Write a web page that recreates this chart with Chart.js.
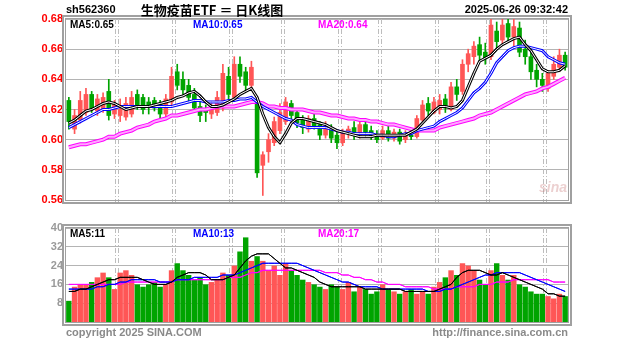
<!DOCTYPE html>
<html>
<head>
<meta charset="utf-8">
<script src="https://cdn.jsdelivr.net/npm/chart.js@4.4.1/dist/chart.umd.min.js"></script>
<style>
  html, body { margin: 0; padding: 0; background: #fff; }
  #wrap { position: relative; width: 627px; height: 342px; overflow: hidden; }
  canvas { position: absolute; left: 0; }
  #kline { top: 0; }
  #vol { top: 214px; }
</style>
</head>
<body>
<div id="wrap">
  <canvas id="kline" width="627" height="214"></canvas>
  <canvas id="vol" width="627" height="128"></canvas>
</div>
<script>
const dates = [
  '2025-02-18','2025-02-19','2025-02-20','2025-02-21','2025-02-24','2025-02-25','2025-02-26','2025-02-27','2025-02-28',
  '2025-03-03','2025-03-04','2025-03-05','2025-03-06','2025-03-07',
  '2025-03-10','2025-03-11','2025-03-12','2025-03-13','2025-03-14',
  '2025-03-17','2025-03-18','2025-03-19','2025-03-20','2025-03-21',
  '2025-03-24','2025-03-25','2025-03-26','2025-03-27','2025-03-28',
  '2025-03-31','2025-04-01','2025-04-02','2025-04-03',
  '2025-04-07','2025-04-08','2025-04-09','2025-04-10','2025-04-11',
  '2025-04-14','2025-04-15','2025-04-16','2025-04-17','2025-04-18',
  '2025-04-21','2025-04-22','2025-04-23','2025-04-24','2025-04-25',
  '2025-04-28','2025-04-29','2025-04-30',
  '2025-05-06','2025-05-07','2025-05-08','2025-05-09',
  '2025-05-12','2025-05-13','2025-05-14','2025-05-15','2025-05-16',
  '2025-05-19','2025-05-20','2025-05-21','2025-05-22','2025-05-23',
  '2025-05-26','2025-05-27','2025-05-28','2025-05-29','2025-05-30',
  '2025-06-03','2025-06-04','2025-06-05','2025-06-06',
  '2025-06-09','2025-06-10','2025-06-11','2025-06-12','2025-06-13',
  '2025-06-16','2025-06-17','2025-06-18','2025-06-19','2025-06-20',
  '2025-06-23','2025-06-24','2025-06-25','2025-06-26'
];

const open = [
  .626,.607,.613,.618,.630,.619,.620,.632,.617,
  .616,.615,.617,.630,.628,
  .625,.626,.624,.617,.625,
  .645,.640,.636,.630,.622,
  .620,.617,.618,.621,.642,
  .628,.650,.645,.636,
  .626,.583,.592,.598,.606,
  .612,.624,.618,.613,.607,
  .614,.610,.603,.608,.603,
  .598,.604,.608,
  .603,.610,.606,.603,
  .601,.606,.601,.605,.600,
  .603,.602,.613,.624,.618,
  .620,.627,.620,.635,.632,
  .650,.655,.663,.658,
  .655,.672,.666,.677,.668,
  .674,.660,.655,.646,.640,
  .634,.642,.648,.656
];
const high = [
  .628,.620,.632,.634,.632,.630,.631,.640,.626,
  .627,.628,.632,.633,.630,
  .628,.628,.626,.630,.648,
  .650,.645,.640,.634,.625,
  .623,.624,.632,.650,.648,
  .655,.655,.648,.652,
  .628,.592,.604,.615,.624,
  .628,.626,.620,.616,.616,
  .618,.612,.612,.610,.605,
  .607,.609,.612,
  .612,.613,.609,.606,
  .609,.609,.607,.607,.606,
  .606,.616,.626,.628,.628,
  .630,.630,.638,.640,.653,
  .660,.665,.668,.664,
  .680,.678,.680,.681,.682,
  .678,.666,.660,.650,.644,
  .646,.655,.660,.658
];
const low = [
  .607,.604,.611,.616,.618,.616,.618,.613,.614,
  .612,.613,.615,.620,.617,
  .617,.619,.614,.615,.623,
  .633,.630,.625,.619,.612,
  .612,.614,.616,.619,.626,
  .627,.638,.632,.634,
  .575,.563,.585,.596,.604,
  .610,.613,.608,.604,.605,
  .607,.600,.601,.598,.594,
  .596,.601,.600,
  .601,.603,.600,.598,
  .600,.599,.599,.597,.598,
  .600,.601,.612,.616,.617,
  .617,.618,.619,.626,.630,
  .645,.650,.652,.650,
  .653,.660,.663,.665,.662,
  .655,.650,.640,.635,.632,
  .632,.640,.645,.646
];
const close = [
  .612,.616,.626,.630,.620,.627,.628,.616,.624,
  .620,.624,.628,.622,.620,
  .623,.621,.617,.627,.642,
  .636,.633,.628,.621,.616,
  .618,.621,.628,.644,.630,
  .650,.642,.636,.648,
  .578,.590,.600,.612,.618,
  .625,.616,.611,.608,.614,
  .609,.603,.609,.601,.598,
  .605,.607,.603,
  .610,.605,.602,.600,
  .606,.601,.605,.599,.604,
  .602,.614,.623,.619,.625,
  .626,.621,.635,.630,.650,
  .657,.662,.656,.654,
  .676,.665,.676,.668,.675,
  .658,.655,.645,.640,.636,
  .644,.650,.656,.648
];

// moving averages of the close, as plotted
const ma5 = [
  .611,.613,.616,.619,.620,.622,.624,.625,.624,
  .622,.620,.621,.622,.622,
  .622,.623,.624,.625,.626,
  .628,.629,.631,.632,.629,
  .625,.622,.622,.623,.625,
  .627,.630,.632,.634,
  .628,.617,.608,.602,.598,
  .604,.611,.614,.614,.613,
  .612,.611,.610,.608,.606,
  .605,.604,.603,
  .602,.602,.602,.603,
  .603,.603,.603,.603,.603,
  .605,.607,.611,.615,.619,
  .622,.622,.621,.622,.626,
  .635,.644,.652,.654,
  .656,.660,.663,.665,.667,
  .668,.663,.659,.653,.647,
  .645,.645,.646,.649
];
const ma10 = [
  .608,.610,.612,.614,.616,.618,.620,.620,.621,
  .622,.622,.622,.622,.622,
  .622,.622,.622,.622,.622,
  .623,.624,.625,.626,.626,
  .625,.625,.625,.625,.626,
  .626,.627,.627,.628,
  .625,.622,.620,.618,.616,
  .614,.613,.610,.609,.608,
  .608,.608,.608,.607,.606,
  .605,.605,.604,
  .604,.604,.604,.603,
  .603,.602,.602,.603,.604,
  .604,.606,.607,.608,.609,
  .612,.614,.616,.618,.621,
  .626,.631,.634,.638,
  .644,.651,.655,.659,.661,
  .662,.662,.661,.660,.659,
  .655,.653,.651,.650
];
const ma20 = [
  .595,.596,.597,.597,.598,.599,.600,.602,.602,
  .604,.605,.606,.608,.609,
  .610,.612,.613,.614,.616,
  .616,.617,.618,.619,.620,
  .620,.621,.622,.622,.622,
  .622,.623,.624,.625,
  .625,.624,.622,.622,.621,
  .621,.620,.620,.620,.619,
  .618,.618,.617,.616,.616,
  .615,.614,.614,
  .613,.613,.612,.612,
  .611,.610,.610,.609,.608,
  .607,.606,.606,.606,.606,
  .608,.609,.610,.611,.612,
  .613,.614,.616,.617,
  .618,.620,.622,.624,.626,
  .628,.630,.631,.632,.634,
  .635,.637,.639,.641
];

const volume = [
  9,15,16,16,17,19,21,19,14,
  21,22,20,16,15,
  16,17,15,16,22,
  25,22,20,18,19,
  16,17,18,21,20,
  24,30,36,26,
  28,26,22,24,20,
  25,22,20,18,17,
  16,15,14,16,15,
  14,17,13,
  15,14,12,13,
  16,14,13,12,13,
  14,12,13,12,15,
  17,19,22,20,25,
  24,22,18,16,
  22,25,20,18,20,
  16,15,13,12,12,
  11,10,12,11
];
const volMa5 = [
  13,13,14,14,15,16,17,18,18,
  19,19,19,19,18,
  17,16,16,16,17,
  19,20,21,21,21,
  20,18,18,18,19,
  20,23,26,28,
  29,29,29,27,25,
  23,23,22,21,20,
  19,17,16,15,15,
  15,15,15,
  15,14,14,14,
  14,14,14,14,13,
  13,13,13,13,13,
  14,15,16,19,21,
  22,22,22,21,
  20,20,21,20,19,
  18,17,16,15,14,
  12,12,11,11
];
const volMa10 = [
  14,14,14,14,14,15,15,16,16,
  17,17,18,18,18,
  18,18,17,17,17,
  18,18,18,19,19,
  19,19,19,20,20,
  20,21,22,23,
  24,25,25,25,25,
  25,25,25,24,23,
  22,21,20,19,18,
  17,17,16,
  15,15,15,15,
  14,14,14,14,14,
  14,14,14,13,13,
  13,14,14,15,16,
  17,18,19,20,
  20,21,21,21,21,
  21,20,19,18,17,
  16,15,14,13
];
const volMa20 = [
  16,16,16,16,16,16,16,16,16,
  16,17,17,17,17,
  17,17,17,17,17,
  18,18,18,18,18,
  18,18,18,18,19,
  19,19,20,21,
  21,22,22,22,22,
  22,22,22,22,22,
  22,22,21,21,21,
  20,20,19,
  19,18,18,17,
  17,16,16,16,15,
  15,15,15,15,14,
  14,14,14,15,15,
  15,15,16,16,
  16,17,17,17,18,
  18,18,18,18,18,
  18,17,17,17
];

const tickDates  = ['2025-03-03','2025-03-17','2025-03-31','2025-04-14','2025-04-28','2025-05-12','2025-05-26','2025-06-09','2025-06-23'];
const tickLabels = ['2025-03-03','03-17','03-31','04-14','04-28','05-12','05-26','06-09','06-23'];
const priceTicks = [0.56, 0.58, 0.60, 0.62, 0.64, 0.66, 0.68];
const volTicks   = [8, 16, 24, 32, 40];

const UP = '#ff5656', DOWN = '#00a400';
const FONT = '"Liberation Sans", Arial, sans-serif';
const candleColors = close.map((c, i) => c >= open[i] ? UP : DOWN);
const tickText = dates.map(d => {
  const k = tickDates.indexOf(d);
  return k < 0 ? '' : tickLabels[k];
});

// double gray frame around the plot area
const frame = {
  id: 'frame',
  afterDraw(chart) {
    const { ctx, chartArea: a } = chart;
    ctx.save();
    ctx.strokeStyle = '#a0a0a0';
    ctx.lineWidth = 1;
    ctx.strokeRect(a.left - 0.5, a.top - 0.5, a.right - a.left + 1, a.bottom - a.top + 1);
    ctx.lineWidth = 2;
    ctx.strokeRect(a.left - 3, a.top - 3, a.right - a.left + 6, a.bottom - a.top + 6);
    ctx.restore();
  }
};

// dash-dot double lines at the start of each labelled date
const dateLines = {
  id: 'dateLines',
  beforeDatasetsDraw(chart) {
    const { ctx, chartArea: a, scales: { x } } = chart;
    const half = (x.getPixelForValue(1) - x.getPixelForValue(0)) / 2;
    ctx.save();
    ctx.strokeStyle = '#bdbdbd';
    ctx.lineWidth = 1;
    ctx.setLineDash([5, 2, 1, 2]);
    tickDates.forEach(d => {
      const px = Math.round(x.getPixelForValue(dates.indexOf(d)) - half);
      [px - 1.5, px + 1.5].forEach(lx => {
        ctx.beginPath();
        ctx.moveTo(lx, a.top);
        ctx.lineTo(lx, a.bottom + 4);
        ctx.stroke();
      });
    });
    ctx.restore();
  }
};

function text(ctx, s, x, y, color, align, font) {
  ctx.font = font || 'bold 11px ' + FONT;
  ctx.fillStyle = color;
  ctx.textAlign = align || 'left';
  ctx.textBaseline = 'middle';
  ctx.fillText(s, x, y);
}

const priceText = {
  id: 'priceText',
  afterDraw(chart) {
    const ctx = chart.ctx;
    ctx.save();
    text(ctx, 'sh562360', 66, 10, '#000');
    text(ctx, '生物疫苗ETF ＝ 日K线图', 212, 10, '#000', 'center', 'bold 13px "Noto Sans CJK SC", ' + FONT);
    text(ctx, '2025-06-26 09:32:42', 568, 10, '#000', 'right');
    text(ctx, 'MA5:' + ma5[ma5.length - 1].toFixed(2), 70, 25, '#000', 'left', 'bold 10px ' + FONT);
    text(ctx, 'MA10:' + ma10[ma10.length - 1].toFixed(2), 193, 25, '#0000ff', 'left', 'bold 10px ' + FONT);
    text(ctx, 'MA20:' + ma20[ma20.length - 1].toFixed(2), 318, 25, '#ff00ff', 'left', 'bold 10px ' + FONT);
    text(ctx, 'sina', 553, 188, 'rgba(200,120,120,0.35)', 'center', 'italic bold 14px ' + FONT);
    ctx.restore();
  }
};

const volText = {
  id: 'volText',
  afterDraw(chart) {
    const ctx = chart.ctx;
    ctx.save();
    text(ctx, 'MA5:' + volMa5[volMa5.length - 1], 70, 20, '#000', 'left', 'bold 10px ' + FONT);
    text(ctx, 'MA10:' + volMa10[volMa10.length - 1], 193, 20, '#0000ff', 'left', 'bold 10px ' + FONT);
    text(ctx, 'MA20:' + volMa20[volMa20.length - 1], 318, 20, '#ff00ff', 'left', 'bold 10px ' + FONT);
    text(ctx, 'copyright 2025 SINA.COM', 66, 119, '#8a8a8a', 'left', 'bold 11px ' + FONT);
    text(ctx, 'http://finance.sina.com.cn', 568, 119, '#8a8a8a', 'right', 'bold 11px ' + FONT);
    ctx.restore();
  }
};

// hollow-looking MA line: wide coloured stroke with a thin light core
function maLines(data, color, core, width, order) {
  const base = { type: 'line', data, pointRadius: 0, tension: 0, fill: false };
  return [
    Object.assign({}, base, { borderColor: core, borderWidth: Math.max(1, width - 2), order }),
    Object.assign({}, base, { borderColor: color, borderWidth: width, order: order + 1 })
  ];
}

new Chart(document.getElementById('kline'), {
  type: 'bar',
  data: {
    labels: dates,
    datasets: [
      ...maLines(ma5, '#000000', '#ffffff', 3, 0),
      ...maLines(ma10, '#0000ff', '#ffffff', 3, 2),
      ...maLines(ma20, '#ff00ff', '#ffa8ff', 4, 4),
      { data: open.map((o, i) => [o, close[i]]), backgroundColor: candleColors,
        grouped: false, barThickness: 4, order: 6 },
      { data: low.map((l, i) => [l, high[i]]), backgroundColor: candleColors,
        grouped: false, barThickness: 1, order: 7 }
    ]
  },
  options: {
    responsive: false,
    animation: false,
    layout: { padding: { left: 0, right: 59, top: 19, bottom: 0 } },
    plugins: { legend: { display: false }, tooltip: { enabled: false } },
    scales: {
      x: {
        offset: true,
        grid: { display: false },
        border: { display: false },
        ticks: {
          autoSkip: false, maxRotation: 0, padding: 5, color: '#1a8ad4',
          font: { family: FONT, size: 11, weight: 'bold' },
          callback: (v, i) => tickText[i]
        },
        afterFit: s => { s.height = 14; }
      },
      y: {
        min: priceTicks[0], max: priceTicks[priceTicks.length - 1],
        afterBuildTicks: s => { s.ticks = priceTicks.map(v => ({ value: v })); },
        grid: { color: '#b4b4b4', lineWidth: 1, drawTicks: false },
        border: { display: false },
        ticks: {
          padding: 3, color: '#ff0000',
          font: { family: FONT, size: 11, weight: 'bold' },
          callback: v => v.toFixed(2)
        },
        afterFit: s => { s.width = 66; }
      }
    }
  },
  plugins: [dateLines, frame, priceText]
});

new Chart(document.getElementById('vol'), {
  type: 'bar',
  data: {
    labels: dates,
    datasets: [
      ...maLines(volMa5, '#000000', '#000000', 1, 0),
      ...maLines(volMa10, '#0000ff', '#0000ff', 1, 2),
      ...maLines(volMa20, '#ff00ff', '#ff00ff', 1, 4),
      { data: volume, backgroundColor: candleColors, barPercentage: 0.95, categoryPercentage: 1, order: 6 }
    ]
  },
  options: {
    responsive: false,
    animation: false,
    layout: { padding: { left: 0, right: 59, top: 14, bottom: 20 } },
    plugins: { legend: { display: false }, tooltip: { enabled: false } },
    scales: {
      x: {
        offset: true,
        grid: { display: false },
        border: { display: false },
        ticks: { display: false },
        afterFit: s => { s.height = 0; }
      },
      y: {
        min: 0, max: 40,
        afterBuildTicks: s => { s.ticks = volTicks.map(v => ({ value: v })); },
        grid: { color: '#b4b4b4', lineWidth: 1, drawTicks: false },
        border: { display: false },
        ticks: {
          padding: 3, color: '#9a9a9a',
          font: { family: FONT, size: 11, weight: 'bold' }
        },
        afterFit: s => { s.width = 66; }
      }
    }
  },
  plugins: [dateLines, frame, volText]
});
</script>
</body>
</html>
